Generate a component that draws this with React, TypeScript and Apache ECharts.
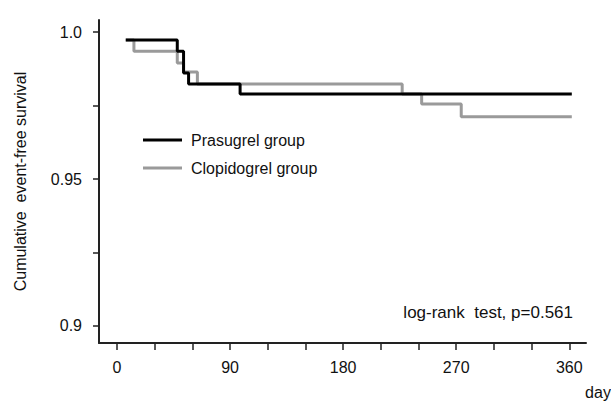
import React, { useEffect, useRef } from "react";
import * as echarts from "echarts";

const prasugrelDays = [7, 48, 53, 57, 98, 362];
const prasugrelSurv = [0.9973, 0.9935, 0.9861, 0.9823, 0.9789, 0.9789];
const clopidogrelDays = [7, 13.5, 48, 53, 64, 227, 242.5, 274, 362];
const clopidogrelSurv = [0.9973, 0.9935, 0.9895, 0.9864, 0.9823, 0.9789, 0.9755, 0.9712, 0.9712];

const xTickValues = [0, 30, 60, 90, 120, 150, 180, 210, 240, 270, 300, 330, 360];
const xLabelValues = [0, 90, 180, 270, 360];
const yTickValues = [0.9, 0.925, 0.95, 0.975, 1.0];
const yLabelValues = [0.9, 0.95, 1.0];
const yLabelText: Record<string, string> = { "0.9": "0.9", "0.95": "0.95", "1": "1.0" };
const legendNames = ["Prasugrel group", "Clopidogrel group"];
const legendColors = ["#000", "#9a9a9a"];

const FONT = "'Liberation Sans', Arial, sans-serif";

export default function App() {
  const ref = useRef<HTMLDivElement>(null);
  useEffect(() => {
    if (!ref.current) return;
    const chart = echarts.init(ref.current, null, { renderer: "svg" });
    const axisLine = { show: true, onZero: false, lineStyle: { color: "#222", width: 2 } };
    const legendGraphics: any[] = [];
    legendNames.forEach((name, i) => {
      const y = 140 + i * 28;
      legendGraphics.push({
        type: "line",
        shape: { x1: 143, y1: y, x2: 182, y2: y },
        style: { stroke: legendColors[i], lineWidth: 3 },
      });
      legendGraphics.push({
        type: "text",
        x: 191,
        y,
        style: { text: name, font: `16px ${FONT}`, fill: "#111", verticalAlign: "middle", align: "left" },
      });
    });
    chart.setOption({
      animation: false,
      backgroundColor: "#fff",
      grid: { left: 99, right: 25, top: 20, bottom: 58, containLabel: false },
      xAxis: {
        type: "value",
        min: -14.3,
        max: 373.3,
        axisLine,
        splitLine: { show: false },
        axisTick: { show: true, customValues: xTickValues, length: 7, lineStyle: { color: "#222", width: 1.5 } },
        axisLabel: {
          customValues: xLabelValues,
          margin: 16,
          fontFamily: FONT,
          fontSize: 16,
          color: "#111",
        },
      },
      yAxis: {
        type: "value",
        min: 0.8942,
        max: 1.0041,
        name: "Cumulative  event-free survival",
        nameLocation: "middle",
        nameGap: 71,
        nameTextStyle: { fontFamily: FONT, fontSize: 16, color: "#111" },
        axisLine,
        splitLine: { show: false },
        axisTick: { show: true, customValues: yTickValues, length: 6, lineStyle: { color: "#222", width: 1.5 } },
        axisLabel: {
          customValues: yLabelValues,
          margin: 17,
          fontFamily: FONT,
          fontSize: 16,
          color: "#111",
          formatter: (v: number) => yLabelText[String(Math.round(v * 1000) / 1000)] ?? String(v),
        },
      },
      graphic: [
        ...legendGraphics,
        {
          type: "text",
          x: 573,
          y: 312,
          style: { text: "log-rank  test, p=0.561", font: `17px ${FONT}`, fill: "#111", align: "right", verticalAlign: "middle" },
        },
        {
          type: "text",
          x: 598,
          y: 392,
          style: { text: "day", font: `16px ${FONT}`, fill: "#111", align: "center", verticalAlign: "middle" },
        },
      ],
      series: [
        {
          name: "Clopidogrel group",
          type: "line",
          step: "end",
          symbol: "none",
          color: "#9a9a9a",
          lineStyle: { color: "#9a9a9a", width: 3 },
          itemStyle: { color: "#9a9a9a" },
          data: clopidogrelDays.map((d, i) => [d, clopidogrelSurv[i]]),
        },
        {
          name: "Prasugrel group",
          type: "line",
          step: "end",
          symbol: "none",
          color: "#000",
          lineStyle: { color: "#000", width: 3 },
          itemStyle: { color: "#000" },
          data: prasugrelDays.map((d, i) => [d, prasugrelSurv[i]]),
        },
      ],
    });
    return () => chart.dispose();
  }, []);
  return <div ref={ref} style={{ position: "fixed", left: 0, top: 0, width: 611, height: 401 }} />;
}
